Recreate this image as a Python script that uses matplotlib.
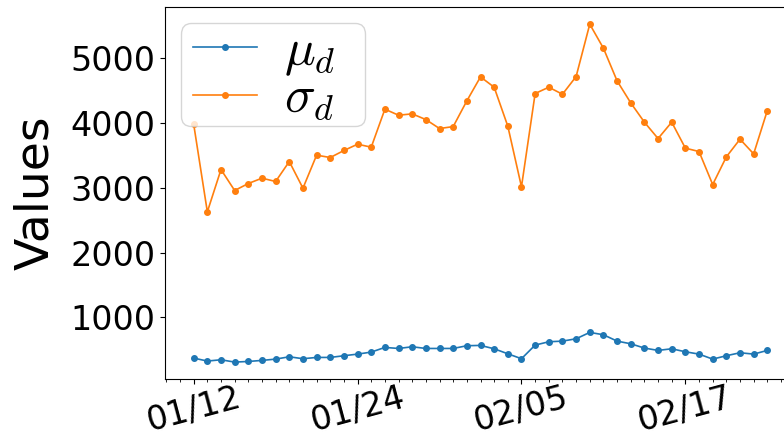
import matplotlib
matplotlib.use("Agg")
import matplotlib.pyplot as plt
import matplotlib.dates as mdates
from matplotlib.lines import Line2D
from matplotlib.legend_handler import HandlerLine2D
import pandas as pd

plt.rcParams["mathtext.fontset"] = "cm"

dates = pd.date_range("2020-01-12", "2020-02-23", freq="D")

mu_d = [375, 329, 349, 313, 323, 339, 359, 395, 365, 385, 385, 411, 436, 467,
        539, 523, 549, 523, 523, 523, 565, 570, 518, 441, 365, 575, 626, 636,
        672, 770, 734, 636, 595, 529, 493, 518, 472, 436, 359, 411, 457, 436, 493]
sigma_d = [3975, 2626, 3277, 2954, 3062, 3144, 3093, 3400, 2990, 3498, 3462, 3570,
           3667, 3621, 4206, 4113, 4134, 4046, 3908, 3938, 4334, 4703, 4544, 3944,
           3011, 4447, 4544, 4436, 4708, 5514, 5144, 4642, 4303, 4006, 3754, 4006,
           3606, 3554, 3046, 3472, 3744, 3518, 4185]

W, H = 784, 434
ax_l, ax_r, ax_t, ax_b = 165, 796, 7.3, 379
fig = plt.figure(figsize=(W/100, H/100), dpi=100)
ax = fig.add_axes([ax_l/W, 1-ax_b/H, (ax_r-ax_l)/W, (ax_b-ax_t)/H])

ax.plot(dates, mu_d, "o-", color="#1f77b4", markersize=4, linewidth=1.2, label=r"$\mu_d$")
ax.plot(dates, sigma_d, "o-", color="#ff7f0e", markersize=4, linewidth=1.2, label=r"$\sigma_d$")

ax.set_xticks(dates[::12])
ax.xaxis.set_major_formatter(mdates.DateFormatter("%m/%d"))
ax.xaxis.set_minor_locator(mdates.DayLocator())
ax.set_yticks([1000, 2000, 3000, 4000, 5000])
ax.tick_params(axis="both", which="major", labelsize=24)
ax.tick_params(axis="x", which="major", labelrotation=15, pad=-2)
for lbl in ax.get_xticklabels():
    lbl.set_ha("center")
ax.set_ylabel("Values", fontsize=34, labelpad=9)

aw, ah = ax_r - ax_l, ax_b - ax_t
em = 37 * 100 / 72
leg = ax.legend(loc="upper left", fontsize=37, handlelength=(64 + 9)/em,
                handletextpad=27/em, labelspacing=-0.08, borderpad=0.05,
                borderaxespad=0, mode="expand",
                handler_map={Line2D: HandlerLine2D(xpad=9/em)},
                bbox_to_anchor=((181-ax_l)/aw, 0, 184/aw, (ax_b-23.3)/ah))

fig.savefig("out.png", dpi=100)
